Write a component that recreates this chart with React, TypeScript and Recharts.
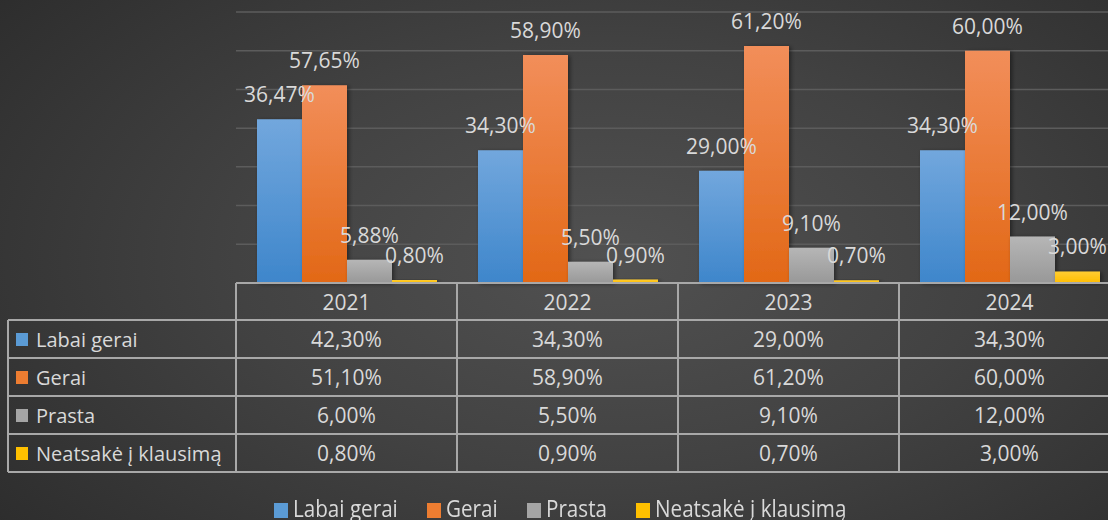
import React, { useLayoutEffect, useRef, useState } from 'react';
import { BarChart, Bar, XAxis, YAxis, CartesianGrid, LabelList } from 'recharts';

const years = ['2021', '2022', '2023', '2024'];
const seriesNames = ['Labai gerai', 'Gerai', 'Prasta', 'Neatsakė į klausimą'];

const labaiGerai = [42.3, 34.3, 29.0, 34.3];
const gerai = [51.1, 58.9, 61.2, 60.0];
const prasta = [6.0, 5.5, 9.1, 12.0];
const neatsake = [0.8, 0.9, 0.7, 3.0];

// labels printed above the bars (2021 labels differ from the table in the source)
const labaiGeraiLabels = ['36,47%', '34,30%', '29,00%', '34,30%'];
const geraiLabels = ['57,65%', '58,90%', '61,20%', '60,00%'];
const prastaLabels = ['5,88%', '5,50%', '9,10%', '12,00%'];
const neatsakeLabels = ['0,80%', '0,90%', '0,70%', '3,00%'];

const yTicks = [0, 10, 20, 30, 40, 50, 60, 70];

const seriesValues = [labaiGerai, gerai, prasta, neatsake];
const seriesLabels = [labaiGeraiLabels, geraiLabels, prastaLabels, neatsakeLabels];
const colors = [
  { id: 'gBlue', top: '#72a7dd', bottom: '#3e86cb', key: '#5b9bd5' },
  { id: 'gOrange', top: '#f28e5a', bottom: '#e26816', key: '#ed7d31' },
  { id: 'gGray', top: '#b6b6b6', bottom: '#989898', key: '#a5a5a5' },
  { id: 'gYellow', top: '#ffcd33', bottom: '#ffbd00', key: '#ffc000' },
];

const fmt = (v: number) => v.toFixed(2).replace('.', ',') + '%';

const data = years.map((y, i) => {
  const row: any = { year: y };
  seriesValues.forEach((vals, s) => {
    row['s' + s] = vals[i];
    row['l' + s] = seriesLabels[s][i];
  });
  return row;
});

const CHART_W = 1120;
const PLOT_LEFT = 236;
const PLOT_TOP = 12;
const PLOT_BOTTOM = 283;
const BAND = (CHART_W - PLOT_LEFT) / years.length;
const TEXT = '#d9d9d9';
const LINE = '#a8a8a8';
const FONT = '"Open Sans", sans-serif';

const rowTops = [283, 320, 358, 396, 434, 472];

function DataTable() {
  const hLines = rowTops.map((t, i) => (
    <div key={'h' + i} style={{ position: 'absolute', top: t - 1, left: i === 0 ? PLOT_LEFT : 8, width: CHART_W, height: 2, background: LINE }} />
  ));
  const vLines = years.map((_, i) => (
    <div key={'v' + i} style={{ position: 'absolute', left: PLOT_LEFT + i * BAND - 1, top: rowTops[0], width: 2, height: rowTops[5] - rowTops[0], background: LINE }} />
  ));
  const cell = (top: number, h: number, left: number, w: number, content: React.ReactNode, key: string, align: 'center' | 'left' = 'center') => (
    <div key={key} style={{ position: 'absolute', top, left, width: w, height: h, display: 'flex', alignItems: 'center', justifyContent: align === 'center' ? 'center' : 'flex-start', color: TEXT, fontSize: 21, fontFamily: FONT }}>
      {content}
    </div>
  );
  const cells: React.ReactNode[] = [];
  years.forEach((y, i) => cells.push(cell(rowTops[0], rowTops[1] - rowTops[0], PLOT_LEFT + i * BAND, BAND, y, 'y' + i)));
  seriesNames.forEach((name, s) => {
    const top = rowTops[s + 1];
    const h = rowTops[s + 2] - top;
    cells.push(cell(top, h, 16, PLOT_LEFT - 16, (
      <>
        <span style={{ display: 'inline-block', width: 12, height: 13, background: colors[s].key, marginRight: 8 }} />
        <span style={{ fontSize: 20 }}>{name}</span>
      </>
    ), 'n' + s, 'left'));
    years.forEach((_, i) => cells.push(cell(top, h, PLOT_LEFT + i * BAND, BAND, fmt(seriesValues[s][i]), 'c' + s + i)));
  });
  return (
    <>
      {cells}
      {hLines}
      <div style={{ position: 'absolute', left: 7, top: rowTops[1], width: 2, height: rowTops[5] - rowTops[1], background: LINE }} />
      {vLines}
    </>
  );
}

// Excel squeezes the legend text horizontally
function Condensed({ text, scale }: { text: string; scale: number }) {
  const ref = useRef<HTMLSpanElement>(null);
  const [w, setW] = useState(0);
  useLayoutEffect(() => {
    if (ref.current) setW(ref.current.offsetWidth);
  }, [text]);
  return (
    <span
      ref={ref}
      style={{
        display: 'inline-block', whiteSpace: 'nowrap', transform: `scaleX(${scale})`, transformOrigin: 'left center',
        marginRight: -(1 - scale) * w, color: TEXT, fontSize: 24, fontFamily: FONT, lineHeight: '28px',
      }}
    >
      {text}
    </span>
  );
}

function BottomLegend() {
  return (
    <div style={{ position: 'absolute', top: 494, left: 0, width: 1120, display: 'flex', justifyContent: 'center' }}>
      {seriesNames.map((name, s) => (
        <div key={name} style={{ display: 'flex', alignItems: 'center', marginRight: s < 3 ? 29 : 0 }}>
          <span style={{ display: 'inline-block', width: 14, height: 15, background: colors[s].key, marginRight: 5, marginTop: 4 }} />
          <Condensed text={name} scale={0.86} />
        </div>
      ))}
    </div>
  );
}

export default function App() {
  return (
    <div style={{ position: 'absolute', left: 0, top: 0, width: 1108, height: 520, overflow: 'hidden', background: 'radial-gradient(ellipse 75% 90% at 55% 50%, #515151 0%, #424242 45%, #2a2a2a 100%)' }}>
      <BarChart
        width={CHART_W}
        height={PLOT_BOTTOM + 5}
        data={data}
        margin={{ top: PLOT_TOP, right: 0, left: PLOT_LEFT, bottom: 5 }}
        barCategoryGap={21}
        barGap={0}
      >
        <defs>
          {colors.map((c) => (
            <linearGradient key={c.id} id={c.id} x1="0" y1="0" x2="0" y2="1">
              <stop offset="0%" stopColor={c.top} />
              <stop offset="100%" stopColor={c.bottom} />
            </linearGradient>
          ))}
          <filter id="barShadow" x="-20%" y="-20%" width="140%" height="140%">
            <feDropShadow dx="2" dy="1" stdDeviation="2" floodColor="#000" floodOpacity="0.45" />
          </filter>
        </defs>
        <CartesianGrid vertical={false} stroke="#5c5c5c" strokeWidth={1.5} />
        <XAxis dataKey="year" hide />
        <YAxis hide domain={[0, 70]} ticks={yTicks} />
        {seriesNames.map((name, s) => (
          <Bar key={name} dataKey={'s' + s} name={name} fill={`url(#${colors[s].id})`} filter="url(#barShadow)" isAnimationActive={false}>
            <LabelList dataKey={'l' + s} position="top" offset={17} fill={TEXT} fontSize={21} fontFamily={FONT} />
          </Bar>
        ))}
      </BarChart>
      <DataTable />
      <BottomLegend />
    </div>
  );
}
